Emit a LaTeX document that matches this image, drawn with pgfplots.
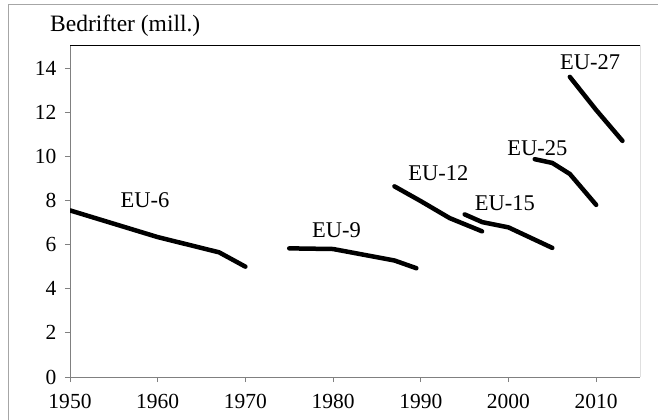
\documentclass[border=0pt]{standalone}
\usepackage{fontspec}
\setmainfont{Liberation Serif}
\usepackage{pgfplots}
\pgfplotsset{compat=1.18}
\tikzset{eu/.style={black, no markers, line width=4.5bp, line cap=round, line join=round}}
\begin{document}
\begin{tikzpicture}
\path[use as bounding box] (0,0) rectangle (658bp,420bp);
\draw[gray!70, line width=1bp] (8bp,-20bp) -- (8bp,415bp) -- (680bp,415bp);
\node[anchor=base west, font=\fontsize{23.5bp}{27bp}\selectfont, inner sep=0pt] at (50bp,388bp) {Bedrifter (mill.)};
\begin{axis}[
  scale only axis, width=570bp, height=331bp,
  at={(70bp,43bp)}, anchor=south west,
  xmin=1950, xmax=2015, ymin=0, ymax=15,
  xtick={1950,1960,...,2010}, ytick={0,2,...,14},
  axis x line=bottom, axis y line=left,
  axis line style={-, gray, line width=1bp},
  tick align=outside, major tick length=5bp,
  tick style={gray, line width=1bp},
  /pgf/number format/assume math mode=true,
  /pgf/number format/1000 sep={},
  tick label style={font=\fontsize{21.5bp}{25bp}\selectfont, black},
  xticklabel style={yshift=-9bp},
  yticklabel style={xshift=-5bp},
]
\draw[black, line width=1bp] (rel axis cs:0,1) -- (rel axis cs:1,1) -- (rel axis cs:1,0);
\addplot[eu] coordinates {(1950,7.55) (1960,6.34) (1967,5.65) (1970,5.0)};
\addplot[eu] coordinates {(1975,5.83) (1980,5.8) (1987,5.28) (1989.5,4.93)};
\addplot[eu] coordinates {(1987,8.64) (1990,7.97) (1993.3,7.2) (1997,6.6)};
\addplot[eu] coordinates {(1995,7.37) (1997,7.02) (2000,6.78) (2005,5.85)};
\addplot[eu] coordinates {(2003,9.87) (2005,9.7) (2007,9.2) (2010,7.8)};
\addplot[eu] coordinates {(2007,13.6) (2010,12.1) (2013,10.7)};
\begin{scope}[every node/.style={font=\fontsize{22.5bp}{26bp}\selectfont, inner sep=0pt}]
\node at (axis cs:1958.55,8.0) {EU-6};
\node at (axis cs:1980.4,6.65) {EU-9};
\node at (axis cs:1992.0,9.26) {EU-12};
\node at (axis cs:1999.6,7.86) {EU-15};
\node at (axis cs:2003.3,10.35) {EU-25};
\node at (axis cs:2009.3,14.25) {EU-27};
\end{scope}
\end{axis}
\end{tikzpicture}
\end{document}
